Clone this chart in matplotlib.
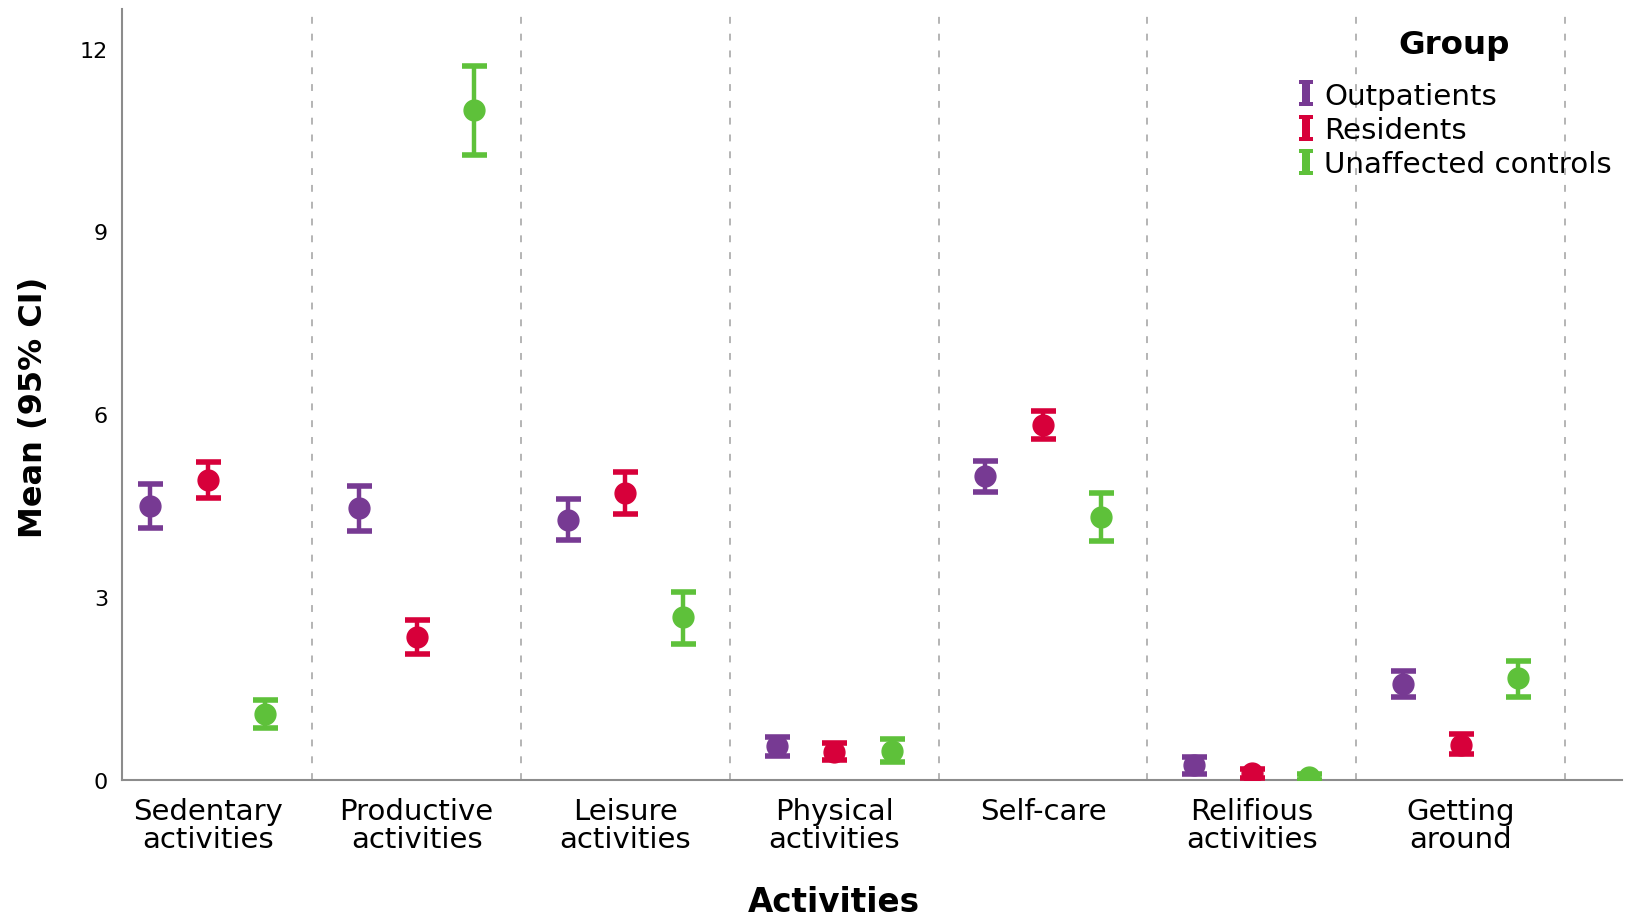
import numpy as np
import matplotlib
matplotlib.use("Agg")
import matplotlib.pyplot as plt
from matplotlib.path import Path
from matplotlib.lines import Line2D

# Activities on the x axis and the three groups compared within each
categories = ["Sedentary\nactivities", "Productive\nactivities", "Leisure\nactivities",
              "Physical\nactivities", "Self-care", "Relifious\nactivities", "Getting\naround"]
groups = ["Outpatients", "Residents", "Unaffected controls"]

# Means with lower / upper 95% confidence limits
outpatients_mean = [4.50, 4.46, 4.27, 0.55, 4.98, 0.24, 1.58]
outpatients_low = [4.14, 4.08, 3.94, 0.39, 4.73, 0.10, 1.37]
outpatients_high = [4.85, 4.83, 4.61, 0.70, 5.24, 0.37, 1.79]

residents_mean = [4.92, 2.35, 4.71, 0.46, 5.83, 0.11, 0.58]
residents_low = [4.63, 2.07, 4.37, 0.33, 5.59, 0.04, 0.43]
residents_high = [5.21, 2.63, 5.06, 0.60, 6.06, 0.18, 0.75]

controls_mean = [1.09, 10.99, 2.67, 0.48, 4.32, 0.05, 1.67]
controls_low = [0.85, 10.26, 2.23, 0.29, 3.92, 0.00, 1.36]
controls_high = [1.32, 11.72, 3.09, 0.67, 4.71, 0.10, 1.96]

y_ticks = [0, 3, 6, 9, 12]

colors = ["#773A93", "#D7003A", "#5EC13A"]
series = [
    (outpatients_mean, outpatients_low, outpatients_high),
    (residents_mean, residents_low, residents_high),
    (controls_mean, controls_low, controls_high),
]

W, H = 1628, 920
fig = plt.figure(figsize=(W / 100, H / 100), dpi=100)
ax = fig.add_axes([122 / W, 1 - 781 / H, 1500 / W, 771 / H])

x = np.arange(len(categories))
offsets = [-0.276, 0.0, 0.276]

# category separators
for b in np.arange(0.5, len(categories), 1.0):
    ax.axvline(b, color="#a0a0a0", lw=1.1, ls=(0, (4.5, 6.5)), zorder=1)

for (mean, lo, hi), color, off in zip(series, colors, offsets):
    mean = np.asarray(mean)
    yerr = np.vstack([mean - np.asarray(lo), np.asarray(hi) - mean])
    ax.errorbar(x + off, mean, yerr=yerr, fmt="o", color=color, ms=15,
                elinewidth=3.2, capsize=9, capthick=4.0, zorder=3)

ax.set_xlim(-0.411, 6.773)
ax.set_ylim(0, 12.65)
ax.set_yticks(y_ticks)
ax.set_yticklabels([str(t) for t in y_ticks], fontsize=16)
ax.set_xticks(x)
ax.set_xticklabels(categories, fontsize=21, linespacing=1.03)
ax.tick_params(axis="both", length=0)
ax.tick_params(axis="y", pad=10)
ax.tick_params(axis="x", pad=12)

for side in ("top", "right"):
    ax.spines[side].set_visible(False)
for side in ("left", "bottom"):
    ax.spines[side].set_color("#8c8c8c")
    ax.spines[side].set_linewidth(1.5)

ax.set_ylabel("Mean (95% CI)", fontsize=23, fontweight="bold")
ax.yaxis.label.set_verticalalignment("center")
ax.yaxis.set_label_coords((34 - 122) / 1500, (781 - 407) / 771)
ax.set_xlabel("Activities", fontsize=23.5, fontweight="bold")
ax.xaxis.label.set_verticalalignment("center")
ax.xaxis.set_label_coords((834 - 122) / 1500, (781 - 902) / 771)

# I-beam legend symbol for the error-bar groups
ibeam = Path([(-0.52, 1.0), (0.52, 1.0), (0.52, 0.70), (0.32, 0.70),
              (0.32, -0.70), (0.52, -0.70), (0.52, -1.0), (-0.52, -1.0),
              (-0.52, -0.70), (-0.32, -0.70), (-0.32, 0.70), (-0.52, 0.70),
              (-0.52, 1.0)], closed=True)
handles = [Line2D([], [], marker=ibeam, ms=18.5, color=c, markeredgewidth=0,
                  linestyle="None") for c in colors]
leg = ax.legend(handles, groups, title="Group", loc="upper left",
                bbox_to_anchor=(1297 / W, 1 - 30 / H), bbox_transform=fig.transFigure,
                frameon=False, fontsize=21.2, handlelength=0.6, handletextpad=0.33,
                labelspacing=0.22, borderpad=0.0, borderaxespad=0.0,
                title_fontproperties={"size": 23.4, "weight": "bold"})
leg._legend_box.sep = 15.5

fig.savefig("out.png", dpi=100)
